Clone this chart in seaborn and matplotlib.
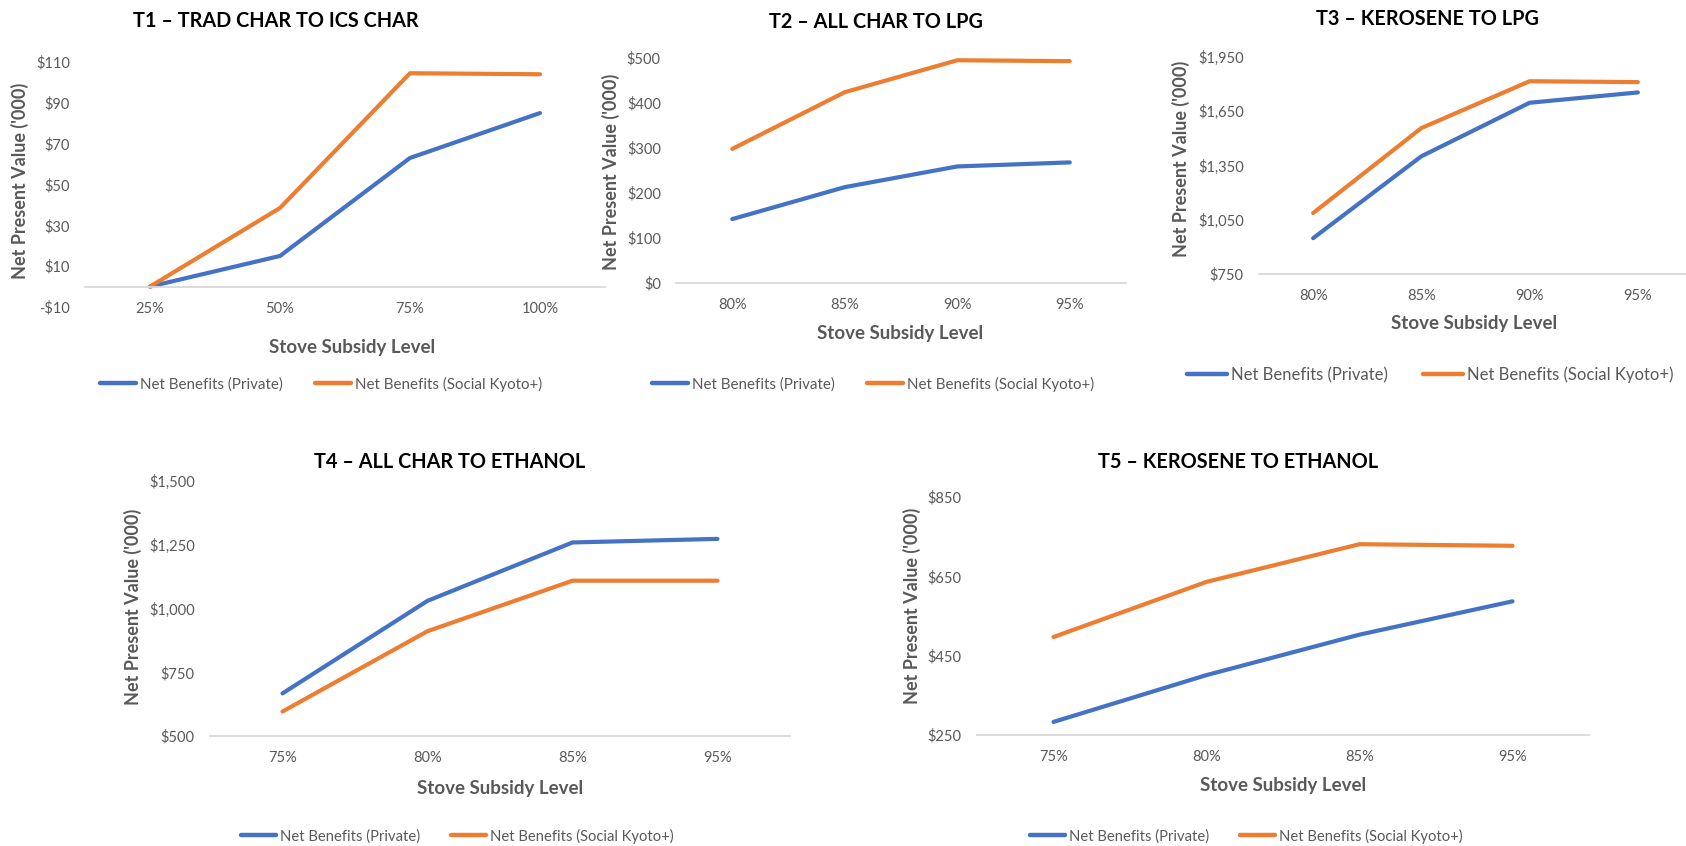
import numpy as np
import pandas as pd
import seaborn as sns
import matplotlib
matplotlib.use('Agg')
from matplotlib import pyplot as plt
from matplotlib.ticker import FuncFormatter

# data (NPV, '000)
t1_levels = ['25%', '50%', '75%', '100%']
t1_private = [0, 15, 63, 85]
t1_social = [0, 38.5, 104.5, 104]

t2_levels = ['80%', '85%', '90%', '95%']
t2_private = [142, 213, 259, 268]
t2_social = [298, 424, 495, 493]

t3_levels = ['80%', '85%', '90%', '95%']
t3_private = [948, 1401, 1697, 1754]
t3_social = [1087, 1557, 1816, 1811]

t4_levels = ['75%', '80%', '85%', '95%']
t4_private = [667, 1030, 1259, 1273]
t4_social = [596, 911, 1109, 1109]

t5_levels = ['75%', '80%', '85%', '95%']
t5_private = [283, 401, 503, 587]
t5_social = [497, 636, 731, 727]

series_names = ['Net Benefits (Private)', 'Net Benefits (Social Kyoto+)']
titles = ['T1 – TRAD CHAR TO ICS CHAR', 'T2 – ALL CHAR TO LPG', 'T3 – KEROSENE TO LPG',
          'T4 – ALL CHAR TO ETHANOL', 'T5 – KEROSENE TO ETHANOL']

W, H = 1686, 846
sns.set_theme(style='white')
plt.rcParams['font.family'] = ['Lato', 'DejaVu Sans']
palette = {series_names[0]: '#4472C4', series_names[1]: '#ED7D31'}
grey = '#595959'

fig = plt.figure(figsize=(W / 100, H / 100), dpi=100)


def rect(x1, y1, x2, y2):
    return [x1 / W, 1 - y2 / H, (x2 - x1) / W, (y2 - y1) / H]


def money(v, pos):
    s = f'${abs(v):,.0f}'
    return '-' + s if v < 0 else s


# panel layout in pixels: axes box, y range/ticks, title pos, ylabel pos, xlabel pos, legend pos, legend size
panels = [
    dict(levels=t1_levels, priv=t1_private, soc=t1_social, box=(85, 62, 605, 307),
         ylim=(-10, 110), yticks=np.arange(-10, 111, 20), title=(276, 21), ylab=(20, 181),
         xlab=(352, 347), leg=(321, 384), lsize=10.9, zero=True),
    dict(levels=t2_levels, priv=t2_private, soc=t2_social, box=(676, 58, 1126, 283),
         ylim=(0, 500), yticks=np.arange(0, 501, 100), title=(876, 22), ylab=(611, 172),
         xlab=(900, 333), leg=(873, 384), lsize=10.9, zero=False),
    dict(levels=t3_levels, priv=t3_private, soc=t3_social, box=(1259, 57, 1692, 274),
         ylim=(750, 1950), yticks=np.arange(750, 1951, 300), title=(1427, 19), ylab=(1181, 159),
         xlab=(1474, 324), leg=(1430, 375), lsize=12, zero=False),
    dict(levels=t4_levels, priv=t4_private, soc=t4_social, box=(210, 481, 790, 736),
         ylim=(500, 1500), yticks=np.arange(500, 1501, 250), title=(450, 462), ylab=(133, 607),
         xlab=(500, 788), leg=(457, 836), lsize=10.6, zero=False),
    dict(levels=t5_levels, priv=t5_private, soc=t5_social, box=(977, 497, 1589, 735),
         ylim=(250, 850), yticks=np.arange(250, 851, 200), title=(1238, 462), ylab=(912, 606),
         xlab=(1283, 785), leg=(1246, 836), lsize=10.6, zero=False),
]

for p, title in zip(panels, titles):
    ax = fig.add_axes(rect(*p['box']))
    df = pd.DataFrame({
        'level': p['levels'] * 2,
        'npv': p['priv'] + p['soc'],
        'series': [series_names[0]] * 4 + [series_names[1]] * 4,
    })
    sns.lineplot(data=df, x='level', y='npv', hue='series', palette=palette, ax=ax,
                 lw=3, solid_capstyle='round', sort=False)
    ax.set_xlim(-0.5, 3.5)
    ax.set_ylim(*p['ylim'])
    ax.set_yticks(p['yticks'])
    ax.yaxis.set_major_formatter(FuncFormatter(money))
    ax.set_xlabel('')
    ax.set_ylabel('')
    for s in ['top', 'right', 'left']:
        ax.spines[s].set_visible(False)
    ax.spines['bottom'].set_color('#D9D9D9')
    ax.spines['bottom'].set_linewidth(1.3)
    if p['zero']:
        ax.spines['bottom'].set_position(('data', 0))
    ax.tick_params(axis='both', length=0, labelsize=10.5, colors=grey)
    ax.tick_params(axis='x', pad=11)
    ax.tick_params(axis='y', pad=11)

    handles, labels = ax.get_legend_handles_labels()
    for h in handles:
        h.set_linewidth(3.2)
    ax.legend(handles, labels, loc='center', ncol=2, frameon=False,
              bbox_to_anchor=(p['leg'][0] / W, 1 - p['leg'][1] / H), bbox_transform=fig.transFigure,
              fontsize=p['lsize'], labelcolor=grey, handlelength=2.4, handletextpad=0.25,
              columnspacing=2.1)

    fig.text(p['title'][0] / W, 1 - p['title'][1] / H, title, ha='center', va='center',
             fontsize=14.3, fontweight='bold', color='black')
    fig.text(p['ylab'][0] / W, 1 - p['ylab'][1] / H, "Net Present Value ('000)", rotation=90,
             ha='center', va='center', fontsize=13, fontweight='bold', color=grey)
    fig.text(p['xlab'][0] / W, 1 - p['xlab'][1] / H, 'Stove Subsidy Level', ha='center',
             va='center', fontsize=13.5, fontweight='bold', color=grey)

fig.savefig('out.png', dpi=100)
